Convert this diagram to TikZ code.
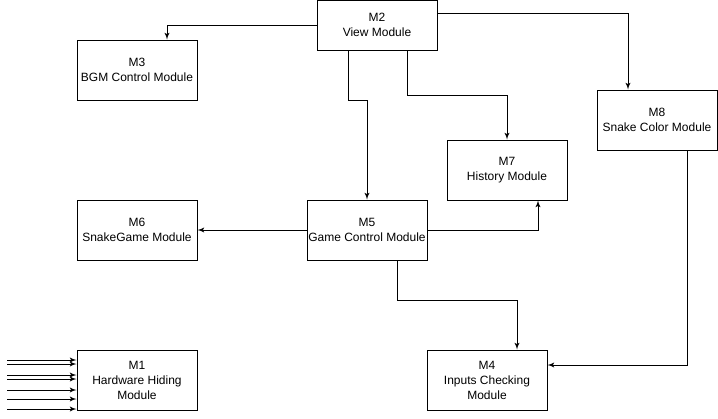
\documentclass[tikz,border=0pt]{standalone}
\usepackage{fontspec}
\setmainfont{Liberation Sans}
\usetikzlibrary{arrows,calc}

\begin{document}
\begin{tikzpicture}[x=0.75pt, y=-0.75pt]
\tikzset{
    mynode/.style={rectangle, draw=black, line width=0.75pt, inner sep=0pt, minimum width=90pt, minimum height=45pt, align=center, font=\fontsize{9}{11.25}\selectfont},
    myarrow/.style={->, >=latex', line width=0.75pt}
}
\useasboundingbox (0,0) rectangle (718,418);

\node[mynode, minimum height=37.5pt] (m2) at (377,25) {M2\\View Module};
\node[mynode] (m3) at (137,70) {M3\\BGM Control Module};
\node[mynode] (m6) at (137,230) {M6\\SnakeGame Module};
\node[mynode] (m1) at (137,380) {M1\\Hardware Hiding\\Module};
\node[mynode] (m5) at (367,230) {M5\\Game Control Module};
\node[mynode] (m7) at (507,170) {M7\\History Module};
\node[mynode] (m8) at (657,120) {M8\\Snake Color Module};
\node[mynode] (m4) at (487,380) {M4\\Inputs Checking\\Module};

\draw[myarrow] (m2.west) -| ($(m3.north)+(30,0)$);
\draw[myarrow] (m2.east) ++(0,-12) -| ($(m8.north)+(-29,0)$);
\draw[myarrow] (m2.south) ++(-29,0) -- ++(0,50) -| (m5.north);
\draw[myarrow] (m2.south) ++(30,0) -- ++(0,45) -| (m7.north);

\draw[myarrow] (m5.west) -- (m6.east);
\draw[myarrow] (m5.east) -| ($(m7.south)+(31,0)$);
\draw[myarrow] (m5.south) ++(30,0) -- ++(0,40) -| ($(m4.north)+(30,0)$);
\draw[myarrow] ($(m8.south)+(30,0)$) |- ($(m4.east)+(0,-15)$);

% inputs into the hardware hiding module
\foreach \y [count=\i] in {-20,-16,-5,-1,10,19,29} {
    \coordinate (in\i) at (7,380+\y);
    \draw[myarrow] (in\i) -- (in\i -| m1.west);
}
\end{tikzpicture}
\end{document}
